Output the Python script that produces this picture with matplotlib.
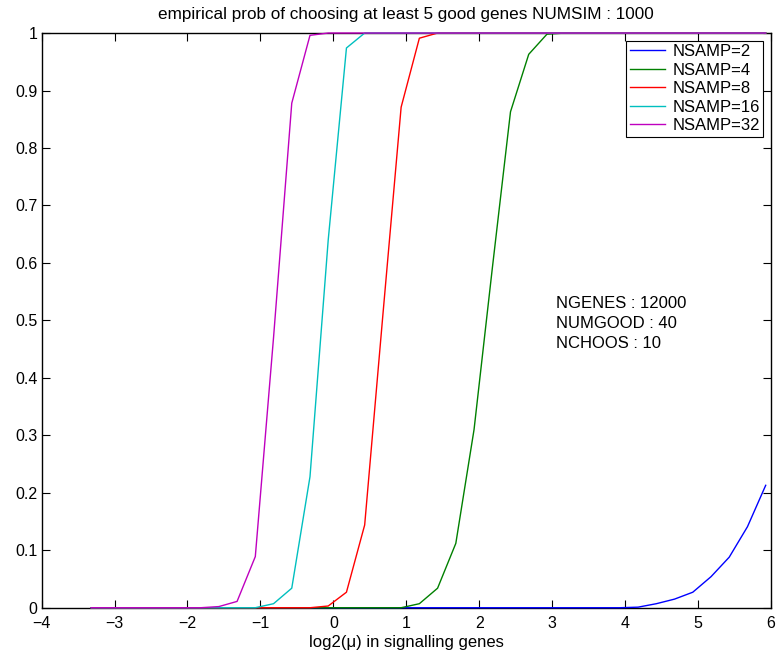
import matplotlib
matplotlib.use("Agg")
import matplotlib.pyplot as plt

plt.rcParams['font.family'] = ['Liberation Sans', 'DejaVu Sans']
plt.rcParams['font.size'] = 12

x_log2mu = [-3.32, -3.07, -2.82, -2.57, -2.32, -2.07, -1.82, -1.57, -1.32, -1.07,
            -0.82, -0.57, -0.32, -0.07, 0.18, 0.43, 0.68, 0.93, 1.18, 1.43,
            1.68, 1.93, 2.18, 2.43, 2.68, 2.93, 3.18, 3.43, 3.68, 3.93,
            4.18, 4.43, 4.68, 4.93, 5.18, 5.43, 5.68, 5.93]

p_nsamp2 = [0]*30 + [0.001, 0.007, 0.015, 0.027, 0.054, 0.088, 0.141, 0.213]
p_nsamp4 = [0]*18 + [0.007, 0.034, 0.112, 0.31, 0.59, 0.863, 0.963, 0.998] + [1]*12
p_nsamp8 = [0]*13 + [0.003, 0.027, 0.144, 0.51, 0.871, 0.991] + [1]*19
p_nsamp16 = [0]*10 + [0.007, 0.034, 0.228, 0.64, 0.974] + [1]*23
p_nsamp32 = [0]*7 + [0.002, 0.011, 0.089, 0.47, 0.878, 0.996] + [1]*25

labels = ["NSAMP=2", "NSAMP=4", "NSAMP=8", "NSAMP=16", "NSAMP=32"]
colors = ["#0000ff", "#008000", "#ff0000", "#00bfbf", "#bf00bf"]
series = [p_nsamp2, p_nsamp4, p_nsamp8, p_nsamp16, p_nsamp32]

fig = plt.figure(figsize=(7.76, 6.58), dpi=100)
ax = fig.add_axes([0.0537, 0.0764, 0.9396, 0.8734])

for ys, lab, c in zip(series, labels, colors):
    ax.plot(x_log2mu, ys, color=c, lw=1.0, label=lab, clip_on=False, zorder=3)

ax.set_xlim(-4, 6)
ax.set_ylim(0, 1)
ax.set_xticks(range(-4, 7))
ax.set_yticks([i / 10 for i in range(11)])
ax.set_yticklabels(["0", "0.1", "0.2", "0.3", "0.4", "0.5", "0.6", "0.7", "0.8", "0.9", "1"])
ax.tick_params(direction='in', top=True, right=True, length=6, width=0.8,
               labelsize=11.5)
ax.tick_params(axis='x', pad=6)
ax.tick_params(axis='y', pad=3)
for s in ax.spines.values():
    s.set_linewidth(1.0)

ax.set_title("empirical prob of choosing at least 5 good genes NUMSIM : 1000", fontsize=12.3, pad=10)
ax.set_xlabel("log2(μ) in signalling genes", fontsize=12, labelpad=3)

ax.text(3.06, 0.543, "NGENES : 12000\nNUMGOOD : 40\nNCHOOS : 10",
        fontsize=12, va='top', ha='left', linespacing=1.41,
        transform=ax.transData)

leg = ax.legend(loc='upper right', fontsize=12, frameon=True, fancybox=False,
                edgecolor='black', framealpha=1, handlelength=2.1,
                handletextpad=0.45, labelspacing=0.21, borderaxespad=0.45,
                borderpad=0.22)
leg.get_frame().set_linewidth(0.8)

fig.savefig("out.png", dpi=100)
